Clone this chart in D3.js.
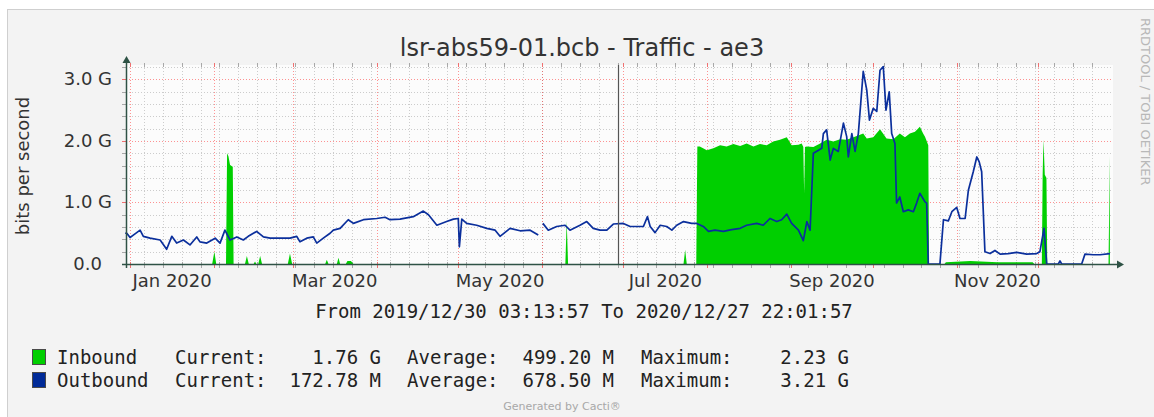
<!DOCTYPE html>
<html>
<head>
<meta charset="utf-8">
<script src="https://cdn.jsdelivr.net/npm/d3@7"></script>
<style>
body { margin: 0; background: #fff; }
svg { display: block; }
</style>
</head>
<body>
<script>
//Width and height
var w = 1154;
var h = 417;

//Time range of the graph (From ... To ...)
var startTime = new Date(Date.UTC(2019, 11, 30, 3, 13, 57));
var endTime = new Date(Date.UTC(2020, 11, 27, 22, 1, 57));

//Day of the dark vertical rule
var vruleDay = 180.2;

//Outbound: days since 2020-01-01 and bits per second (in G)
var outDays = [-1.8, -1.2, 0, 1.2, 3.7, 4.9, 7.4, 11.1, 13.5, 15.4, 17.2, 19.7, 22.1, 24.6, 25.8, 28.3,
    31.4, 33.2, 35.0, 36.9, 39.4, 41.8, 43.6, 46.7, 49.2, 51.7, 55.3, 59.0, 61.5, 62.7, 65.2, 67.6,
    68.9, 71.3, 73.8, 75.0, 77.5, 80.5, 82.4, 86.1, 91.0, 94.1, 95.9, 99.6, 104.5, 108.2, 110.1, 113.2,
    116.8, 119.3, 121.1, 121.5, 122.4, 124.2, 127.9, 131.6, 134.7, 136.5, 140.2, 143.9, 147.6, 150.6,
    151.5, 152.3, 154.3, 157.4, 160.5, 162.3, 166.0, 168.5, 170.9, 173.4, 175.9, 178.3, 182.0, 184.5,
    186.9, 189.4, 190.9, 191.9, 193.7, 195.6, 198.0, 199.9, 201.7, 204.2, 207.2, 209.1, 211.5, 213.4,
    215.8, 218.9, 222.0, 225.1, 227.5, 231.2, 233.6, 236.1, 238.6, 240.4, 242.3, 244.1, 246.6, 248.4,
    249.7, 250.9, 252.1, 254.0, 255.2, 255.8, 257.0, 258.3, 259.5, 261.3, 263.2, 264.4, 265.0, 266.3,
    267.5, 268.7, 270.5, 271.8, 272.8, 274.2, 275.5, 276.7, 277.9, 278.9, 280.1, 281.0, 282.2, 282.8,
    284.0, 285.3, 287.1, 289.0, 290.2, 291.4, 293.3, 293.9, 294.5, 298.8, 300.1, 301.9, 303.2, 305.0,
    306.2, 308.1, 309.3, 311.1, 312.4, 313.3, 314.2, 315.4, 317.3, 319.1, 321.0, 324.0, 327.1, 330.8,
    334.5, 335.7, 337.2, 338.2, 342.5, 343.1, 343.7, 351.1, 352.3, 355.4, 357.9, 361.5];
var outValues = [0.50, 0.50, 0.43, 0.47, 0.55, 0.45, 0.42, 0.39, 0.24, 0.45, 0.34, 0.39, 0.31, 0.44, 0.36, 0.34,
    0.42, 0.34, 0.55, 0.39, 0.44, 0.39, 0.45, 0.53, 0.44, 0.42, 0.42, 0.42, 0.45, 0.36, 0.42, 0.44,
    0.34, 0.42, 0.50, 0.55, 0.58, 0.72, 0.66, 0.72, 0.74, 0.76, 0.72, 0.73, 0.77, 0.86, 0.80, 0.63,
    0.69, 0.73, 0.74, 0.28, 0.73, 0.66, 0.63, 0.58, 0.55, 0.45, 0.58, 0.54, 0.55, 0.47,
    null, 0.66, 0.55, 0.61, 0.63, 0.55, 0.63, 0.69, 0.58, 0.55, 0.55, 0.65, 0.66, 0.61,
    0.61, 0.61, 0.77, 0.61, 0.51, 0.63, 0.61, 0.55, 0.63, 0.69, 0.66, 0.66, 0.61, 0.53,
    0.55, 0.53, 0.56, 0.58, 0.63, 0.66, 0.63, 0.74, 0.69, 0.72, 0.81, 0.66, 0.55, 0.38,
    0.69, 0.55, 1.80, 1.85, 1.88, 2.12, 2.18, 1.69, 1.88, 1.83, 2.29, 2.07, 1.74, 2.12,
    1.83, 2.12, 3.13, 2.83, 2.34, 2.53, 2.48, 3.15, 3.21, 2.50, 2.80, 2.12, 1.96, 0.99,
    1.09, 0.85, 0.88, 0.85, 0.99, 1.15, 1.01, 0.99, 0, 0, 0.72, 0.70, 0.85, 0.92,
    0.74, 0.74, 1.20, 1.50, 1.74, 1.66, 1.50, 0.20, 0.17, 0.22, 0.16, 0.17, 0.19, 0.16,
    0.17, 0.20, 0.58, 0, 0, 0.05, 0, 0, 0.16, 0.15, 0.15, 0.17];

//Inbound: days since 2020-01-01 and bits per second (in G)
var inDays = [-1.8, 30.3, 31.1, 31.8, 35.4, 35.8, 36.3, 36.9, 37.9, 38.2, 42.4, 43.1, 43.8, 45.6, 46.1, 46.6,
    47.3, 48.0, 48.7, 58.2, 59.0, 59.8, 72.0, 72.6, 73.2, 76.3, 76.9, 77.5, 79.6, 80.2, 81.5, 82.4,
    160.6, 161.1, 161.6, 204.2, 204.8, 205.4, 208.9, 209.3, 210.2, 212.8, 215.2, 217.7, 220.1, 222.6,
    225.1, 227.5, 230.0, 232.4, 234.9, 237.3, 239.8, 242.3, 244.1, 246.6, 247.8, 248.4, 248.7, 249.0,
    249.7, 252.1, 254.6, 257.0, 259.5, 262.0, 264.4, 266.9, 270.5, 271.8, 274.2, 276.7, 279.1, 281.6,
    284.0, 285.9, 287.7, 289.6, 291.4, 292.6, 293.3, 294.5, 294.8, 300.5, 301.0, 310.0, 320.0, 333.0,
    333.6, 336.4, 336.7, 337.0, 337.5, 338.1, 338.4, 361.0, 361.5];
var inValues = [0, 0, 0.20, 0, 0, 1.80, 1.75, 1.61, 1.58, 0, 0, 0.13, 0, 0, 0.04, 0,
    0, 0.13, 0, 0, 0.17, 0, 0, 0.07, 0, 0, 0.10, 0, 0, 0.05, 0.05, 0,
    0, 0.70, 0, 0, 0.23, 0, 0, 1.91, 1.91, 1.85, 1.88, 1.93, 1.91, 1.95,
    1.92, 1.96, 1.91, 1.95, 1.93, 1.99, 2.02, 2.06, 1.93, 1.94, 1.96, 1.90, 1.15, 1.90,
    1.91, 1.90, 1.96, 2.02, 1.99, 2.03, 2.02, 2.06, 2.12, 2.04, 2.06, 2.19, 2.04, 2.03,
    2.12, 2.06, 2.12, 2.15, 2.23, 2.12, 2.07, 1.93, 0, 0, 0.03, 0.05, 0.03, 0.03,
    0, 0, 1.45, 2.02, 1.45, 1.40, 0, 0, 1.76];

//Axis labels
var yTicks = [0, 1, 2, 3];
var yTickLabels = ["0.0", "1.0 G", "2.0 G", "3.0 G"];
var monthLabels = ["Jan 2020", "Mar 2020", "May 2020", "Jul 2020", "Sep 2020", "Nov 2020"];

//Legend
var legendNames = ["Inbound", "Outbound"];
var legendColors = ["#00cf00", "#002a97"];
var currentLabels = ["1.76 G", "172.78 M"];
var averageLabels = ["499.20 M", "678.50 M"];
var maximumLabels = ["2.23 G", "3.21 G"];

var title = "lsr-abs59-01.bcb - Traffic - ae3";
var rangeText = "From 2019/12/30 03:13:57 To 2020/12/27 22:01:57";

var sansFont = "'DejaVu Sans', sans-serif";
var monoFont = "'DejaVu Sans Mono', monospace";

//Turn a day offset into a date
var day0 = Date.UTC(2020, 0, 1);
function dayToDate(d) {
    return new Date(day0 + d * 86400000);
}

var outData = outDays.map(function(d, i) { return { date: dayToDate(d), value: outValues[i] }; });
var inData = inDays.map(function(d, i) { return { date: dayToDate(d), value: inValues[i] }; });

//Scales
var x = d3.scaleUtc()
            .domain([startTime, endTime])
            .range([125, 1111]);

var y = d3.scaleLinear()
            .domain([0, 3.235])
            .range([264, 65]);

var plotLeft = 126, plotRight = 1113, plotTop = 65, plotBottom = 264;

//Create SVG element
var svg = d3.select("body")
            .append("svg")
            .attr("width", w)
            .attr("height", h);

svg.append("rect")
    .attr("width", w)
    .attr("height", h)
    .attr("fill", "#ffffff");

//Frame of the graph image
svg.append("rect")
    .attr("x", 7.5)
    .attr("y", 9.5)
    .attr("width", w + 20)
    .attr("height", h + 20)
    .attr("fill", "#f3f3f3")
    .attr("stroke", "#cfcfcf");

//Plot canvas
svg.append("rect")
    .attr("x", plotLeft)
    .attr("y", plotTop)
    .attr("width", plotRight - plotLeft)
    .attr("height", plotBottom - plotTop)
    .attr("fill", "#fcfcfc");

var minorColor = "#cccccc";
var majorColor = "rgba(255,0,0,0.42)";

//Horizontal grid every 0.2 G, red every 1 G
var hGrid = d3.range(1, 17).map(function(i) { return { v: i * 0.2, major: i % 5 === 0 }; });

svg.append("g")
    .selectAll("line")
    .data(hGrid)
    .enter()
    .append("line")
    .attr("x1", plotLeft)
    .attr("x2", plotRight)
    .attr("y1", function(d) { return Math.round(y(d.v)) + 0.5; })
    .attr("y2", function(d) { return Math.round(y(d.v)) + 0.5; })
    .attr("stroke", function(d) { return d.major ? majorColor : minorColor; })
    .attr("stroke-dasharray", "1,2");

//Left ticks
svg.append("g")
    .selectAll("line")
    .data(hGrid)
    .enter()
    .append("line")
    .attr("x1", plotLeft - 4)
    .attr("x2", plotLeft)
    .attr("y1", function(d) { return Math.round(y(d.v)) + 0.5; })
    .attr("y2", function(d) { return Math.round(y(d.v)) + 0.5; })
    .attr("stroke", function(d) { return d.major ? "#f07070" : "#a8a8a8"; });

//Vertical grid: Mondays, red at the start of each month
var vGrid = d3.utcMonday.range(startTime, endTime).map(function(d) { return { date: d, major: false }; })
    .concat(d3.utcMonth.range(startTime, endTime).map(function(d) { return { date: d, major: true }; }));

svg.append("g")
    .selectAll("line")
    .data(vGrid)
    .enter()
    .append("line")
    .attr("x1", function(d) { return Math.round(x(d.date)) + 0.5; })
    .attr("x2", function(d) { return Math.round(x(d.date)) + 0.5; })
    .attr("y1", plotTop)
    .attr("y2", plotBottom)
    .attr("stroke", function(d) { return d.major ? majorColor : minorColor; })
    .attr("stroke-dasharray", "1,2");

//Small ticks on the top and bottom edge
[[plotTop - 2, plotTop + 2], [plotBottom - 2, plotBottom + 4]].forEach(function(t) {
    svg.append("g")
        .selectAll("line")
        .data(vGrid)
        .enter()
        .append("line")
        .attr("x1", function(d) { return Math.round(x(d.date)) + 0.5; })
        .attr("x2", function(d) { return Math.round(x(d.date)) + 0.5; })
        .attr("y1", t[0])
        .attr("y2", t[1])
        .attr("stroke", function(d) { return d.major ? "#f07070" : "#a8a8a8"; });
});

//Inbound area
var area = d3.area()
                .x(function(d) { return x(d.date); })
                .y0(y(0))
                .y1(function(d) { return y(d.value); });

svg.append("path")
    .datum(inData)
    .attr("d", area)
    .attr("fill", "#00cf00");

//Outbound line
var line = d3.line()
                .defined(function(d) { return d.value !== null; })
                .x(function(d) { return x(d.date); })
                .y(function(d) { return y(d.value); });

svg.append("path")
    .datum(outData)
    .attr("d", line)
    .attr("fill", "none")
    .attr("stroke", "#0b2f9c")
    .attr("stroke-width", 1.7)
    .attr("stroke-linejoin", "round");

//Vertical rule
svg.append("line")
    .attr("x1", Math.round(x(dayToDate(vruleDay))) + 0.5)
    .attr("x2", Math.round(x(dayToDate(vruleDay))) + 0.5)
    .attr("y1", plotTop)
    .attr("y2", plotBottom)
    .attr("stroke", "#555555")
    .attr("stroke-width", 1.2);

//Axes with arrows
var axisColor = "#2e5245";

svg.append("line")
    .attr("x1", plotLeft + 0.5)
    .attr("x2", plotLeft + 0.5)
    .attr("y1", plotBottom + 4)
    .attr("y2", plotTop - 3)
    .attr("stroke", axisColor)
    .attr("stroke-width", 1.5);

svg.append("path")
    .attr("d", "M" + (plotLeft - 3.5) + "," + (plotTop - 2) + "L" + (plotLeft + 0.5) + "," + (plotTop - 9) +
        "L" + (plotLeft + 4.5) + "," + (plotTop - 2) + "Z")
    .attr("fill", axisColor);

svg.append("line")
    .attr("x1", plotLeft - 4)
    .attr("x2", plotRight + 5)
    .attr("y1", plotBottom + 0.5)
    .attr("y2", plotBottom + 0.5)
    .attr("stroke", axisColor)
    .attr("stroke-width", 1.5);

svg.append("path")
    .attr("d", "M" + (plotRight + 4) + "," + (plotBottom - 3.5) + "L" + (plotRight + 11) + "," + (plotBottom + 0.5) +
        "L" + (plotRight + 4) + "," + (plotBottom + 4.5) + "Z")
    .attr("fill", axisColor);

//Y axis labels
svg.append("g")
    .selectAll("text")
    .data(yTicks)
    .enter()
    .append("text")
    .attr("x", function(d, i) { return yTickLabels[i].indexOf("G") > 0 ? 112 : 102; })
    .attr("y", function(d) { return y(d) + 6; })
    .attr("text-anchor", "end")
    .style("font-family", sansFont)
    .style("font-size", "18px")
    .style("fill", "#333")
    .text(function(d, i) { return yTickLabels[i]; });

//X axis labels, centred in their month
var parseMonth = d3.utcParse("%b %Y");

svg.append("g")
    .selectAll("text")
    .data(monthLabels)
    .enter()
    .append("text")
    .attr("x", function(d) {
        var m = parseMonth(d);
        return (x(m) + x(d3.utcMonth.offset(m, 1))) / 2;
    })
    .attr("y", 287)
    .attr("text-anchor", "middle")
    .style("font-family", sansFont)
    .style("font-size", "18px")
    .style("fill", "#333")
    .text(function(d) { return d; });

//Vertical axis title
svg.append("text")
    .attr("transform", "translate(29,166) rotate(-90)")
    .attr("text-anchor", "middle")
    .style("font-family", sansFont)
    .style("font-size", "18px")
    .style("fill", "#333")
    .text("bits per second");

//Title
svg.append("text")
    .attr("x", 582)
    .attr("y", 56)
    .attr("text-anchor", "middle")
    .style("font-family", sansFont)
    .style("font-size", "24px")
    .style("fill", "#333")
    .text(title);

//Watermark on the right
svg.append("text")
    .attr("transform", "translate(1140.5,18) rotate(90)")
    .style("font-family", sansFont)
    .style("font-size", "13px")
    .style("fill", "#b8b8b8")
    .text("RRDTOOL / TOBI OETIKER");

//Time range line
svg.append("text")
    .attr("x", 584)
    .attr("y", 318)
    .attr("text-anchor", "middle")
    .style("font-family", monoFont)
    .style("font-size", "19px")
    .style("fill", "#222")
    .text(rangeText);

//Legend rows
var rows = svg.append("g")
    .selectAll("g")
    .data(legendNames)
    .enter()
    .append("g")
    .attr("transform", function(d, i) { return "translate(0," + (364 + i * 23) + ")"; })
    .style("font-family", monoFont)
    .style("font-size", "19px")
    .style("fill", "#222");

rows.append("rect")
    .attr("x", 32.5)
    .attr("y", -14.5)
    .attr("width", 13)
    .attr("height", 15)
    .attr("fill", function(d, i) { return legendColors[i]; })
    .attr("stroke", "#4a4a4a");

var cols = [
    { x: 57, anchor: "start", text: function(d) { return d; } },
    { x: 175, anchor: "start", text: function() { return "Current:"; } },
    { x: 381, anchor: "end", text: function(d, i) { return currentLabels[i]; } },
    { x: 407, anchor: "start", text: function() { return "Average:"; } },
    { x: 614, anchor: "end", text: function(d, i) { return averageLabels[i]; } },
    { x: 641, anchor: "start", text: function() { return "Maximum:"; } },
    { x: 849, anchor: "end", text: function(d, i) { return maximumLabels[i]; } }
];

cols.forEach(function(c) {
    rows.append("text")
        .attr("x", c.x)
        .attr("text-anchor", c.anchor)
        .text(c.text);
});

//Footer
svg.append("text")
    .attr("x", 562)
    .attr("y", 410)
    .attr("text-anchor", "middle")
    .style("font-family", sansFont)
    .style("font-size", "11px")
    .style("fill", "#a8a8a8")
    .text("Generated by Cacti®");
</script>
</body>
</html>
